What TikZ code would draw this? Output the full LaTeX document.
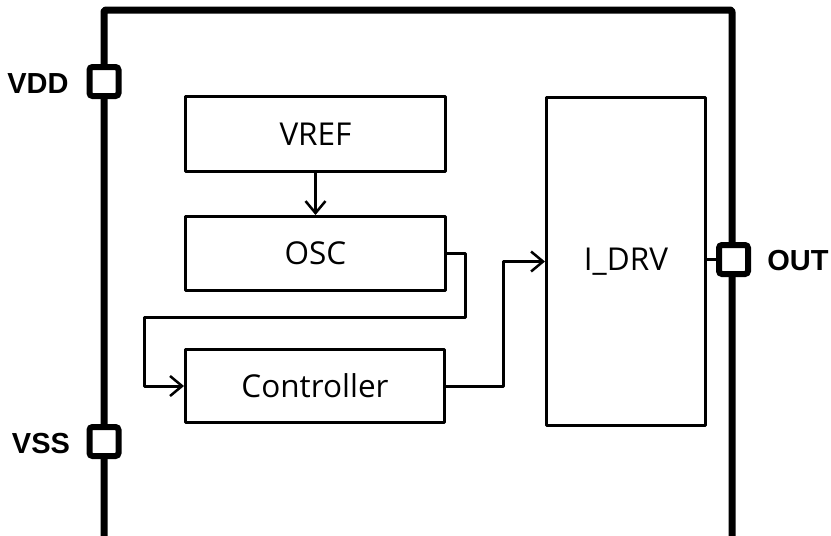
\documentclass[tikz,border=0pt]{standalone}
\usepackage{fontspec}
\setmainfont{Open Sans}
\newfontfamily\labelfont{Liberation Sans}
\usetikzlibrary{arrows.meta}
\tikzset{
  blockbox/.style={draw, line width=3pt, line join=round, fill=white, inner sep=0pt, font=\fontsize{31.5}{34}\selectfont},
  pad/.style={draw, line width=6pt, rounded corners=3pt, fill=white, minimum size=29pt, inner sep=0pt},
  pinlabel/.style={font=\labelfont\bfseries\fontsize{29}{31}\selectfont, inner sep=0pt},
  frame/.style={line width=7pt, line join=round, rounded corners=2pt},
  conn/.style={line width=3pt, line join=round},
  arr/.style={conn, -{Straight Barb[length=12pt,width=20pt,line width=2.5pt]}}
}
\begin{document}
\begin{tikzpicture}[x=1pt,y=-1pt]
\useasboundingbox (0,0) rectangle (831,536);
\coordinate (fbl) at (104,545);
\coordinate (ftl) at (104,10);
\coordinate (ftr) at (732,10);
\coordinate (fbr) at (732,545);
\draw[frame] (fbl) -- (ftl) -- (ftr) -- (fbr);
% pads
\node[pad] (vdd) at (104,81.5) {};
\node[pad] (vss) at (104,441.5) {};
\node[pad] (out) at (733.5,259.5) {};
\node[pinlabel] (vddl) at (38,84) {VDD};
\node[pinlabel] (vssl) at (41,444) {VSS};
\node[pinlabel] (outl) at (798,261) {OUT};
% blocks
\node[blockbox, minimum width=260pt, minimum height=75pt] (vref) at (315.5,134) {VREF};
\node[blockbox, minimum width=260pt, minimum height=74pt] (osc) at (315.5,253.5) {OSC};
\node[blockbox, minimum width=259pt, minimum height=73pt] (ctrl) at (315,386) {Controller};
\node[blockbox, minimum width=159pt, minimum height=328pt] (idrv) at (626,261.5) {I\_DRV};
% connectors
\coordinate (c1) at (465,317);
\coordinate (c2) at (144,317);
\coordinate (c3) at (503,386);
\draw[arr] (vref.south) -- (osc.north);
\draw[arr] (osc.east) -| (c1) -- (c2) |- (ctrl.west);
\draw[arr] (ctrl.east) -- (c3) |- (idrv.west);
\draw[conn] (out.west -| idrv.east) -- (out.west);
\end{tikzpicture}
\end{document}
